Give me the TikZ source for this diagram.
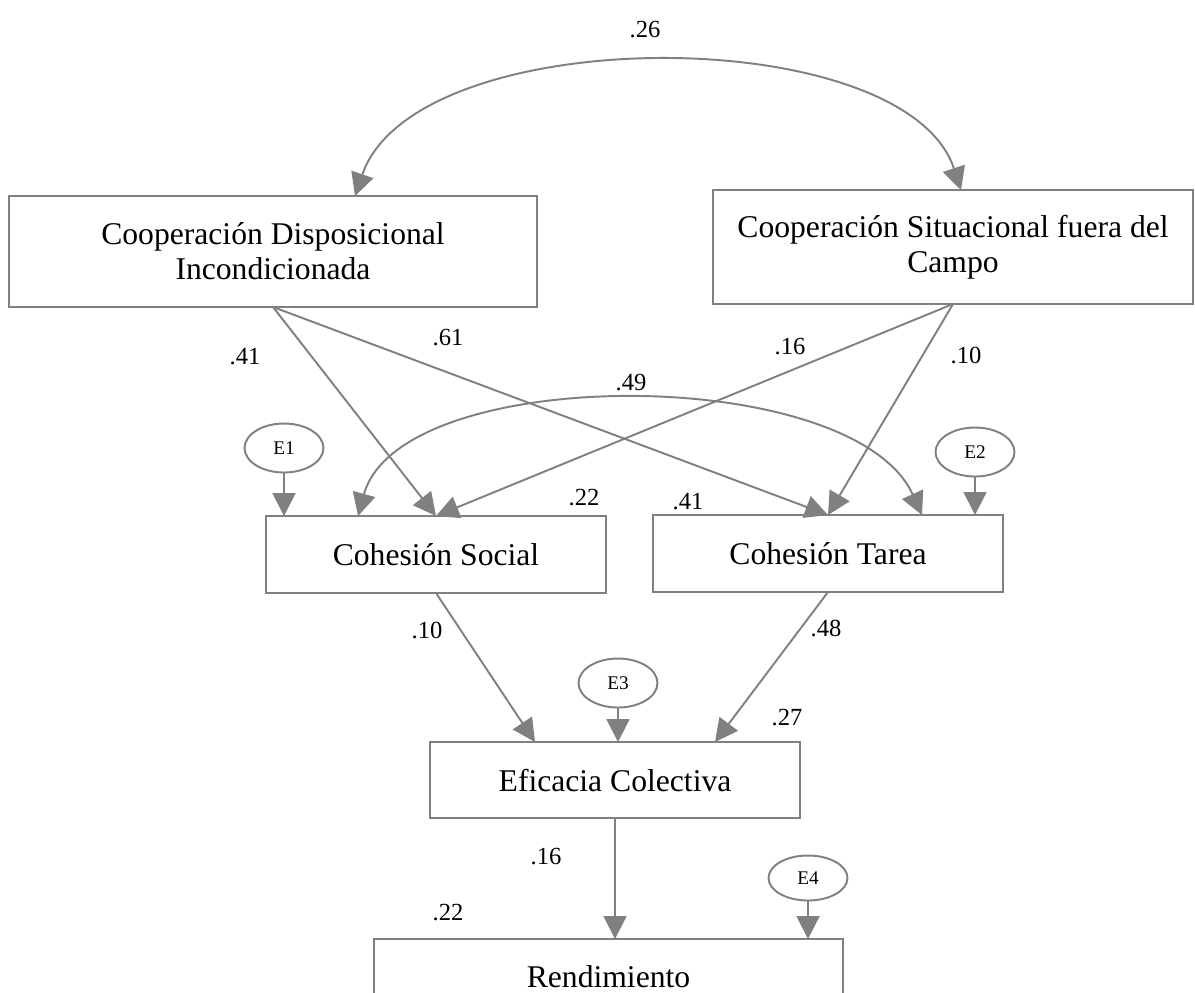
\documentclass[tikz,border=0pt]{standalone}
\usepackage{fontspec}
\setmainfont{Liberation Serif}
\usetikzlibrary{arrows.meta,shapes.geometric,calc}
\definecolor{linea}{rgb}{0.5,0.5,0.5}

\begin{document}
\begin{tikzpicture}[x=0.02cm,y=-0.02cm,
	caja/.style={draw=linea,line width=1.1pt,inner sep=0pt,outer sep=0pt,align=center,font=\fontsize{18}{20}\selectfont},
	residuo/.style={ellipse,draw=linea,line width=1.1pt,inner sep=0pt,outer sep=0pt,minimum width=1.58cm,minimum height=0.98cm,font=\fontsize{11}{13}\selectfont},
	flecha/.style={draw=linea,line width=1.1pt,-{Triangle[length=13pt,width=13pt]}},
	doble/.style={draw=linea,line width=1.1pt,{Triangle[length=13pt,width=13pt]}-{Triangle[length=13pt,width=13pt]}},
	coef/.style={font=\fontsize{14}{16}\selectfont}]
	\useasboundingbox (0,0) rectangle (1195,992);
	\clip (0,0) rectangle (1195,992);
	
	%Variables
	\node[caja,minimum width=10.56cm,minimum height=2.22cm] (cdi) at (273,251.5) {Cooperación Disposicional\\Incondicionada};
	\node[caja,minimum width=9.6cm,minimum height=2.28cm] (csc) at (953,247) {Cooperación Situacional fuera del\\Campo};
	\node[caja,minimum width=6.8cm,minimum height=1.54cm] (cs) at (436,554.5) {Cohesión Social};
	\node[caja,minimum width=7.0cm,minimum height=1.54cm] (ct) at (828,553.5) {Cohesión Tarea};
	\node[caja,minimum width=7.4cm,minimum height=1.52cm] (ef) at (615,780) {Eficacia Colectiva};
	\node[caja,minimum width=9.38cm,minimum height=1.52cm] (rend) at (608.5,977) {Rendimiento};
	
	%Errores
	\node[residuo] (e1) at (284,448) {E1};
	\node[residuo] (e2) at (975,452) {E2};
	\node[residuo] (e3) at (618,683) {E3};
	\node[residuo,minimum height=0.9cm] (e4) at (808,878) {E4};
	
	%Covarianzas
	\draw[doble] ($(cdi.north)+(82,0)$) .. controls (415,20) and (905,20) .. ($(csc.north)+(8,0)$);
	\draw[doble] ($(cs.north)+(-78,0)$) .. controls (400,363) and (853,363) .. ($(ct.north)+(94,0)$);
	
	%Efectos directos
	\draw[flecha] (cdi.south) -- (cs.north);
	\draw[flecha] (cdi.south) -- (ct.north);
	\draw[flecha] (csc.south) -- (cs.north);
	\draw[flecha] (csc.south) -- (ct.north);
	\draw[flecha] (cs.south) -- ($(ef.north)+(-80,0)$);
	\draw[flecha] (ct.south) -- ($(ef.north)+(100,0)$);
	\draw[flecha] (ef.south) -- (ef.south |- rend.north);
	
	%Errores a variables
	\draw[flecha] (e1.south) -- (e1.south |- cs.north);
	\draw[flecha] (e2.south) -- (e2.south |- ct.north);
	\draw[flecha] (e3.south) -- (e3.south |- ef.north);
	\draw[flecha] (e4.south) -- (e4.south |- rend.north);
	
	%Coeficientes
	\node[coef] (c26) at (645,30) {.26};
	\node[coef] (c41a) at (245,357) {.41};
	\node[coef] (c61) at (448,338) {.61};
	\node[coef] (c16a) at (790,347) {.16};
	\node[coef] (c10a) at (966,355) {.10};
	\node[coef] (c49) at (631,383) {.49};
	\node[coef] (c22a) at (584,498) {.22};
	\node[coef] (c41b) at (688,502) {.41};
	\node[coef] (c10b) at (427,630) {.10};
	\node[coef] (c48) at (826,628) {.48};
	\node[coef] (c27) at (787,718) {.27};
	\node[coef] (c16b) at (546,857) {.16};
	\node[coef] (c22b) at (448,913) {.22};
\end{tikzpicture}
\end{document}
